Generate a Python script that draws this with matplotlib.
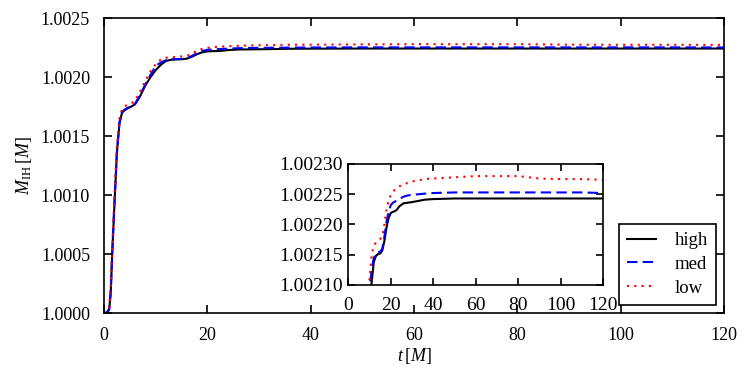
import numpy as np
import matplotlib; matplotlib.use("Agg")
import matplotlib.pyplot as plt

plt.rcParams["font.family"] = ["Liberation Serif", "DejaVu Serif"]
plt.rcParams["mathtext.fontset"] = "custom"
plt.rcParams["mathtext.rm"] = "Liberation Serif"
plt.rcParams["mathtext.it"] = "Liberation Serif:italic"

# time samples (in M) shared by all three resolutions
t = [0, 0.5, 1.0, 1.3, 1.6, 2.0, 2.5, 3.0, 3.5, 4.0, 4.5, 5, 6, 7, 8, 9, 10, 11, 12,
     13, 14, 15, 16, 17, 18, 19, 20, 21, 22, 23, 24, 26, 28, 30, 33, 36, 40, 50, 60,
     70, 80, 90, 100, 110, 120]

m_high = [1.000000, 1.000005, 1.000030, 1.000170, 1.000510, 1.000900, 1.001360, 1.001610,
          1.001700, 1.001720, 1.001735, 1.001745, 1.001770, 1.001840, 1.001930, 1.002000,
          1.002060, 1.002105, 1.002138, 1.002148, 1.002151, 1.002152, 1.002157, 1.002173,
          1.002195, 1.002211, 1.002219, 1.002221, 1.002222, 1.002225, 1.002230, 1.002235,
          1.002236, 1.002237, 1.002239, 1.002241, 1.002242, 1.002243, 1.002243, 1.002243,
          1.002243, 1.002243, 1.002243, 1.002243, 1.002243]

m_med = [1.000000, 1.000006, 1.000035, 1.000180, 1.000520, 1.000910, 1.001370, 1.001620,
         1.001710, 1.001725, 1.001740, 1.001750, 1.001775, 1.001850, 1.001940, 1.002020,
         1.002095, 1.002125, 1.002145, 1.002152, 1.002154, 1.002155, 1.002160, 1.002180,
         1.002205, 1.002222, 1.002232, 1.002236, 1.002238, 1.002240, 1.002242, 1.002246,
         1.002248, 1.002249, 1.002250, 1.002251, 1.002252, 1.002253, 1.002253, 1.002253,
         1.002253, 1.002253, 1.002253, 1.002253, 1.002252]

m_low = [1.000000, 1.000010, 1.000050, 1.000220, 1.000580, 1.000980, 1.001420, 1.001650,
         1.001730, 1.001755, 1.001765, 1.001770, 1.001800, 1.001880, 1.001970, 1.002050,
         1.002110, 1.002150, 1.002165, 1.002170, 1.002173, 1.002176, 1.002180, 1.002200,
         1.002225, 1.002240, 1.002249, 1.002254, 1.002258, 1.002260, 1.002263, 1.002266,
         1.002269, 1.002271, 1.002273, 1.002275, 1.002276, 1.002278, 1.002280, 1.002280,
         1.002280, 1.002276, 1.002275, 1.002275, 1.002274]

labels = ["high", "med", "low"]

def draw(ax, lw=1.5):
    h1, = ax.plot(t, m_high, color="black", lw=lw, label=labels[0])
    h2, = ax.plot(t, m_med, color="#0000ff", lw=lw, dashes=(5, 2.5), label=labels[1])
    h3, = ax.plot(t, m_low, color="#ff0000", lw=lw, dashes=(1, 2.5), label=labels[2])
    return [h1, h2, h3]

def style(ax, pad, length, size):
    ax.tick_params(direction="in", top=True, right=True, length=length, width=1.2,
                   labelsize=size, pad=pad)
    for s in ax.spines.values():
        s.set_linewidth(1.2)

fig = plt.figure(figsize=(7.47, 3.74), dpi=100)
ax = fig.add_axes([0.1392, 0.1623, 0.830, 0.789])
handles = draw(ax)
ax.set_xlim(0, 120)
ax.set_ylim(1.0, 1.0025)
ax.set_xticks(np.arange(0, 121, 20))
ax.set_yticks(np.arange(1.0, 1.00251, 0.0005))
ax.set_yticklabels([f"{v:.4f}" for v in np.arange(1.0, 1.00251, 0.0005)])
style(ax, 10, 6, 13)
ax.set_xlabel(r"$t\,[M]$", fontsize=13, labelpad=1)
ax.set_ylabel(r"$M_{\mathrm{IH}}\,[M]$", fontsize=13, labelpad=5)

ins = fig.add_axes([0.4663, 0.2380, 0.341, 0.3235])
draw(ins)
ins.set_xlim(0, 120)
ins.set_ylim(1.0021, 1.0023)
ins.set_xticks(np.arange(0, 121, 20))
yt = np.arange(1.0021, 1.002301, 0.00005)
ins.set_yticks(yt)
ins.set_yticklabels([f"{v:.5f}" for v in yt])
style(ins, 4, 5, 14)
ins.tick_params(axis="x", pad=9)

leg = fig.legend(handles=handles, loc="lower right", bbox_to_anchor=(0.9585, 0.1845),
                 fontsize=13.5, frameon=True, fancybox=False, handlelength=1.5,
                 labelspacing=0.35, borderpad=0.45, handletextpad=1.0, borderaxespad=0)
leg.get_frame().set_edgecolor("black")
leg.get_frame().set_linewidth(1.2)
leg.get_frame().set_alpha(1)

fig.savefig("out.png", dpi=100)
